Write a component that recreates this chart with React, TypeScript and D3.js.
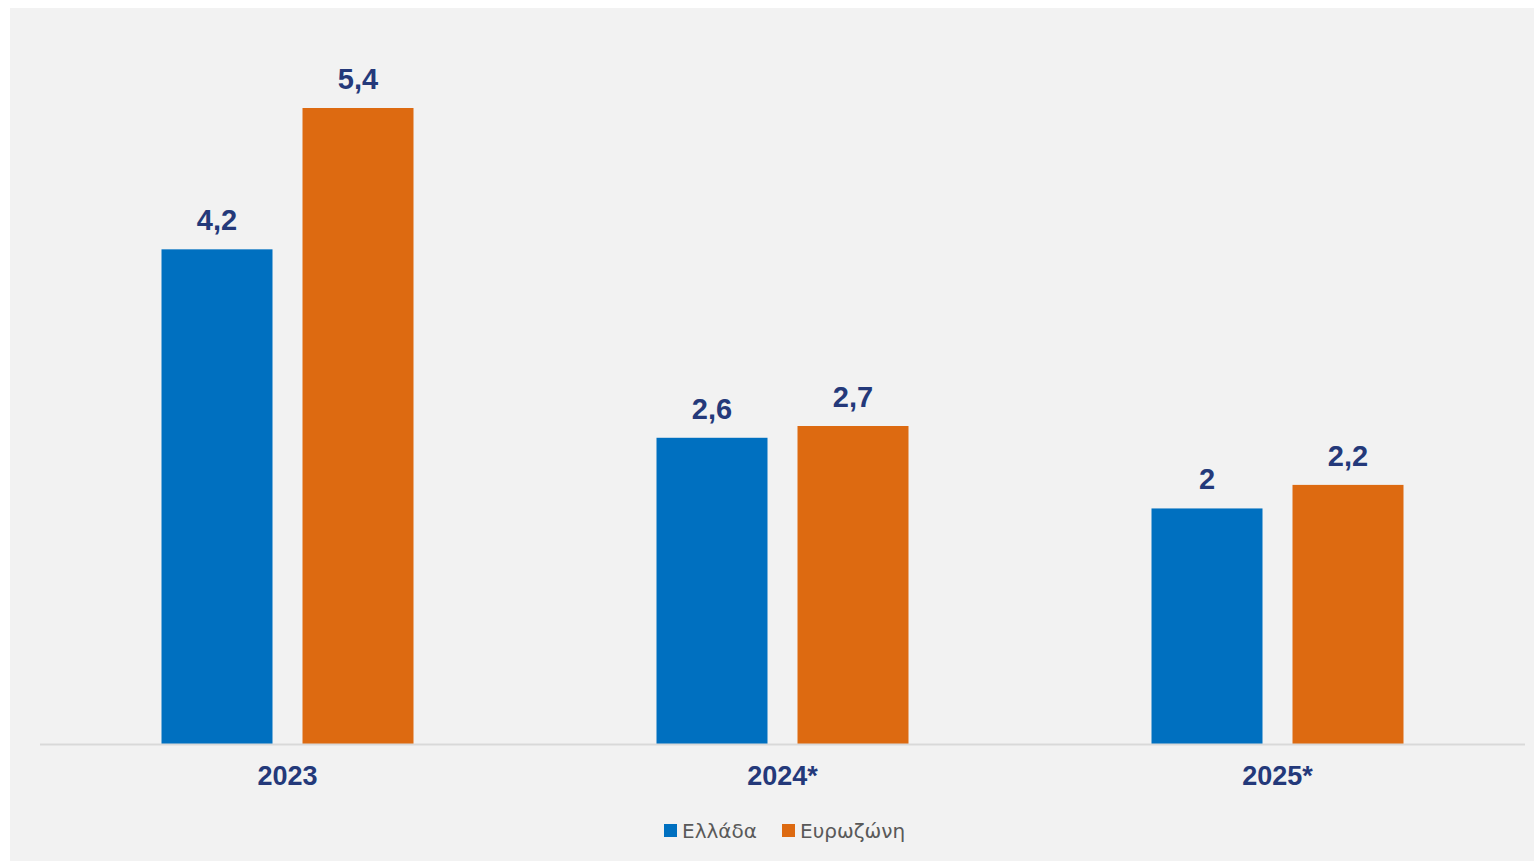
import React from "react";
import * as d3 from "d3";

const categories = ["2023", "2024*", "2025*"];
const seriesNames = ["Ελλάδα", "Ευρωζώνη"];
const greece = [4.2, 2.6, 2.0];
const eurozone = [5.4, 2.7, 2.2];
const valueLabels = [["4,2", "2,6", "2"], ["5,4", "2,7", "2,2"]];
const colors = ["#0070C0", "#DD6A11"];

export default function App() {
  const W = 1534, H = 861;
  const left = 40, right = 1525, baseY = 744;
  const x0 = d3.scaleBand().domain(categories).range([left, right]).paddingInner(0).paddingOuter(0);
  const y = d3.scaleLinear().domain([0, 5.4]).range([baseY, 108]);
  const series = [greece, eurozone];
  const groupOffset = (x0.bandwidth() - 252) / 2;
  const bw = 111;
  const barX = (ci: number, si: number) => (x0(categories[ci]) as number) + groupOffset + si * (bw + 30);
  return (
    <svg width={W} height={H} style={{ position: "absolute", left: 0, top: 0, fontFamily: "'Liberation Sans', Arial, sans-serif" }}>
      <rect x={10} y={8} width={W - 10} height={H - 8} fill="#F2F2F2" />
      {series.map((vals, si) =>
        vals.map((v, ci) => (
          <g key={`${si}-${ci}`}>
            <rect x={barX(ci, si)} y={y(v)} width={bw} height={baseY - y(v)} fill={colors[si]} />
            <text x={barX(ci, si) + bw / 2} y={y(v) - 19} textAnchor="middle" fontSize={29} fontWeight="bold" fill="#24397A">
              {valueLabels[si][ci]}
            </text>
          </g>
        ))
      )}
      <line x1={left} x2={right} y1={baseY + 0.5} y2={baseY + 0.5} stroke="#D9D9D9" strokeWidth={2} />
      {categories.map((c) => (
        <text key={c} x={(x0(c) as number) + x0.bandwidth() / 2} y={785} textAnchor="middle" fontSize={27} fontWeight="bold" fill="#24397A">
          {c}
        </text>
      ))}
      <g fontFamily="'DejaVu Sans', sans-serif">
        <rect x={664} y={824} width={13} height={13} fill={colors[0]} />
        <text x={682} y={838} fontSize={20} fill="#595959">{seriesNames[0]}</text>
        <rect x={782} y={824} width={13} height={13} fill={colors[1]} />
        <text x={800} y={838} fontSize={20} fill="#595959">{seriesNames[1]}</text>
      </g>
    </svg>
  );
}
